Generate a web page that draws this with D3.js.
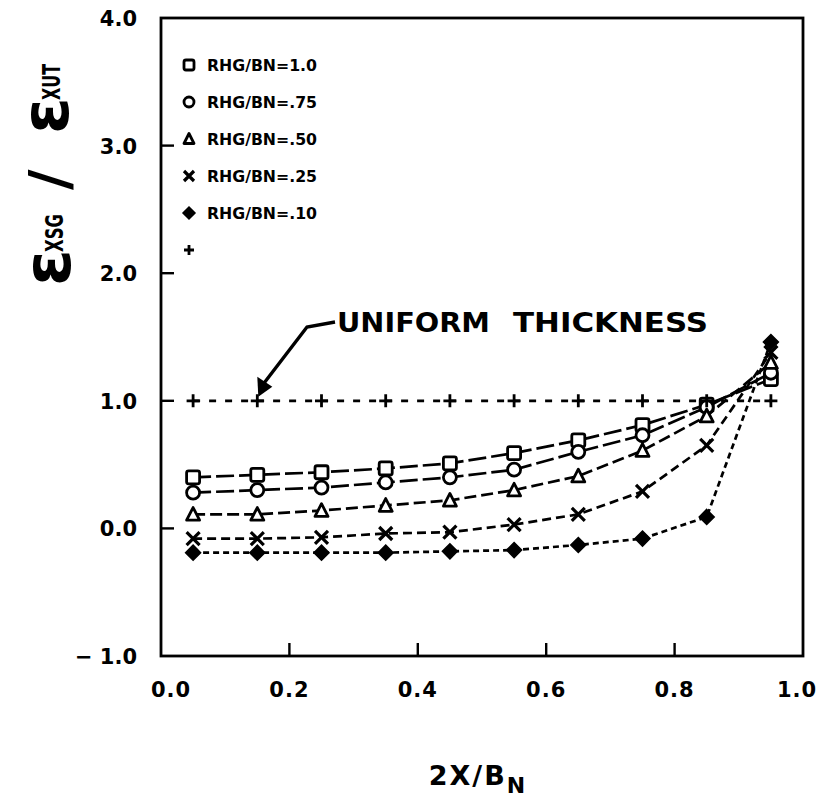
<!DOCTYPE html>
<html>
<head>
<meta charset="utf-8">
<script src="https://cdn.jsdelivr.net/npm/d3@7"></script>
<style>
  html, body { margin: 0; padding: 0; background: #fff; }
  svg { display: block; }
  text { fill: #000; }
</style>
</head>
<body>
<svg id="chart" width="816" height="812"></svg>
<script>
// Spanwise positions of the strain gauges
const stations = [0.05, 0.15, 0.25, 0.35, 0.45, 0.55, 0.65, 0.75, 0.85, 0.95];

// Strain ratio for each doubler thickness ratio RHG/BN
const rhg100 = [0.40, 0.42, 0.44, 0.47, 0.51, 0.59, 0.69, 0.81, 0.97, 1.17];
const rhg075 = [0.28, 0.30, 0.32, 0.36, 0.40, 0.46, 0.60, 0.73, 0.95, 1.22];
const rhg050 = [0.11, 0.11, 0.14, 0.18, 0.22, 0.30, 0.41, 0.61, 0.88, 1.30];
const rhg025 = [-0.08, -0.08, -0.07, -0.04, -0.03, 0.03, 0.11, 0.29, 0.65, 1.38];
const rhg010 = [-0.19, -0.19, -0.19, -0.19, -0.18, -0.17, -0.13, -0.08, 0.09, 1.46];
const uniform = [1.0, 1.0, 1.0, 1.0, 1.0, 1.0, 1.0, 1.0, 1.0, 1.0];

const legendLabels = ["RHG/BN=1.0", "RHG/BN=.75", "RHG/BN=.50", "RHG/BN=.25", "RHG/BN=.10", ""];
const xTicks = [0.0, 0.2, 0.4, 0.6, 0.8, 1.0];
const xTickLabels = ["0.0", "0.2", "0.4", "0.6", "0.8", "1.0"];
const yTicks = [-1, 0, 1, 2, 3, 4];
const yTickLabels = ["− 1.0", "0.0", "1.0", "2.0", "3.0", "4.0"];

const svg = d3.select("#chart");
const plotLeft = 161, plotRight = 803, plotTop = 18, plotBottom = 656;

const x = d3.scaleLinear().domain([0, 1]).range([plotLeft, plotRight]);
const y = d3.scaleLinear().domain([-1, 4]).range([plotBottom, plotTop]);

const series = [
  { values: rhg100, shape: "square",   dash: "18,5" },
  { values: rhg075, shape: "circle",   dash: "18,5" },
  { values: rhg050, shape: "triangle", dash: "12,5" },
  { values: rhg025, shape: "cross",    dash: "9,5" },
  { values: rhg010, shape: "diamond",  dash: "6,4" },
  { values: uniform, shape: "plus",    dash: "7,9" }
];

// Marker drawing helper
function drawMarker(g, shape, cx, cy, s) {
  const sw = 2.8;
  if (shape === "square") {
    g.append("rect").attr("x", cx - s / 2).attr("y", cy - s / 2).attr("width", s).attr("height", s)
      .attr("rx", 2).attr("fill", "#fff").attr("stroke", "#000").attr("stroke-width", sw);
  } else if (shape === "circle") {
    g.append("circle").attr("cx", cx).attr("cy", cy).attr("r", s / 2)
      .attr("fill", "#fff").attr("stroke", "#000").attr("stroke-width", sw);
  } else if (shape === "triangle") {
    const h = s * 0.9;
    g.append("path").attr("d", `M${cx},${cy - h / 2 - 1}L${cx + s / 2},${cy + h / 2}L${cx - s / 2},${cy + h / 2}Z`)
      .attr("fill", "#fff").attr("stroke", "#000").attr("stroke-width", sw).attr("stroke-linejoin", "round");
  } else if (shape === "cross") {
    const r = s / 2;
    g.append("path").attr("d", `M${cx - r},${cy - r}L${cx + r},${cy + r}M${cx - r},${cy + r}L${cx + r},${cy - r}`)
      .attr("stroke", "#000").attr("stroke-width", 3.2).attr("fill", "none");
  } else if (shape === "diamond") {
    const r = s / 2 + 1;
    g.append("path").attr("d", `M${cx},${cy - r}L${cx + r},${cy}L${cx},${cy + r}L${cx - r},${cy}Z`)
      .attr("fill", "#000").attr("stroke", "#000").attr("stroke-width", 1.5);
  } else if (shape === "plus") {
    const r = s / 2;
    g.append("path").attr("d", `M${cx - r},${cy}L${cx + r},${cy}M${cx},${cy - r}L${cx},${cy + r}`)
      .attr("stroke", "#000").attr("stroke-width", 2.8).attr("fill", "none");
  }
}

// Frame
svg.append("rect").attr("x", plotLeft).attr("y", plotTop)
  .attr("width", plotRight - plotLeft).attr("height", plotBottom - plotTop)
  .attr("fill", "none").attr("stroke", "#000").attr("stroke-width", 2.8);

// Inward ticks
const tickLen = 13;
svg.append("g").selectAll("line").data(yTicks.slice(1, -1)).join("line")
  .attr("x1", plotLeft).attr("x2", plotLeft + tickLen).attr("y1", d => y(d)).attr("y2", d => y(d))
  .attr("stroke", "#000").attr("stroke-width", 2.4);
svg.append("g").selectAll("line").data(xTicks.slice(1, -1)).join("line")
  .attr("x1", d => x(d)).attr("x2", d => x(d)).attr("y1", plotBottom).attr("y2", plotBottom - tickLen)
  .attr("stroke", "#000").attr("stroke-width", 2.4);

// Tick labels
const tickFont = "'DejaVu Sans', sans-serif";
svg.append("g").selectAll("text").data(yTicks).join("text")
  .attr("x", 137).attr("y", d => y(d) + 8)
  .attr("text-anchor", "end").attr("font-family", tickFont).attr("font-weight", "bold").attr("font-size", 21)
  .text((d, i) => yTickLabels[i]);
svg.append("g").selectAll("text").data(xTicks).join("text")
  .attr("x", (d, i) => x(d) + (i === 0 ? 10 : i === xTicks.length - 1 ? -6 : 0)).attr("y", 697)
  .attr("text-anchor", "middle").attr("font-family", tickFont).attr("font-weight", "bold").attr("font-size", 21)
  .attr("letter-spacing", 1)
  .text((d, i) => xTickLabels[i]);

// Data lines and markers
const line = d3.line().x((d, i) => x(stations[i])).y(d => y(d));
series.forEach(s => {
  svg.append("path").datum(s.values).attr("d", line)
    .attr("fill", "none").attr("stroke", "#000").attr("stroke-width", 2.7).attr("stroke-dasharray", s.dash);
});
series.forEach(s => {
  const g = svg.append("g");
  s.values.forEach((v, i) => drawMarker(g, s.shape, x(stations[i]), y(v), 13));
});

// Legend
const legend = svg.append("g");
series.forEach((s, i) => {
  const ly = 65 + i * 37;
  drawMarker(legend, s.shape, 189, ly, 10);
  if (legendLabels[i]) {
    legend.append("text").attr("x", 207).attr("y", ly + 6)
      .attr("font-family", "'Liberation Sans Narrow', 'DejaVu Sans Condensed', sans-serif")
      .attr("font-weight", "bold").attr("font-size", 16)
      .attr("textLength", 110).attr("lengthAdjust", "spacingAndGlyphs")
      .text(legendLabels[i]);
  }
});

// Annotation for the uniform-thickness case
const note = svg.append("text").attr("y", 332)
  .attr("font-family", tickFont).attr("font-weight", "bold").attr("font-size", 26);
note.append("tspan").attr("x", 337).attr("textLength", 153).attr("lengthAdjust", "spacingAndGlyphs").text("UNIFORM");
note.append("tspan").attr("x", 513).attr("textLength", 195).attr("lengthAdjust", "spacingAndGlyphs").text("THICKNESS");

const tip = [x(stations[1]) + 1, y(uniform[1]) - 4];
svg.append("path").attr("d", `M335,322L307,327L${tip[0] + 6},${tip[1] - 14}`)
  .attr("fill", "none").attr("stroke", "#000").attr("stroke-width", 3.4);
svg.append("path")
  .attr("d", `M${tip[0]},${tip[1]}L${tip[0] - 1},${tip[1] - 20}L${tip[0] + 14},${tip[1] - 10}Z`)
  .attr("fill", "#000");

// Axis titles
svg.append("text").attr("x", 478).attr("y", 785).attr("text-anchor", "middle")
  .attr("font-family", tickFont).attr("font-weight", "bold").attr("font-size", 27)
  .attr("letter-spacing", 2)
  .call(t => {
    t.append("tspan").text("2X/B");
    t.append("tspan").attr("font-size", 22).attr("dy", 8).text("N");
  });

const yt = svg.append("g").attr("transform", "rotate(-90)")
  .attr("font-family", tickFont).attr("font-weight", "bold");
yt.append("text").attr("x", -286).attr("y", 70).attr("font-size", 66).text("ε");
yt.append("text").attr("x", -252).attr("y", 63).attr("font-size", 24).attr("textLength", 38).attr("lengthAdjust", "spacingAndGlyphs").text("XSG");
yt.append("text").attr("x", -190).attr("y", 68).attr("font-size", 56).text("/");
yt.append("text").attr("x", -134).attr("y", 68).attr("font-size", 66).text("ε");
yt.append("text").attr("x", -100).attr("y", 60).attr("font-size", 24).attr("textLength", 36).attr("lengthAdjust", "spacingAndGlyphs").text("XUT");
</script>
</body>
</html>
